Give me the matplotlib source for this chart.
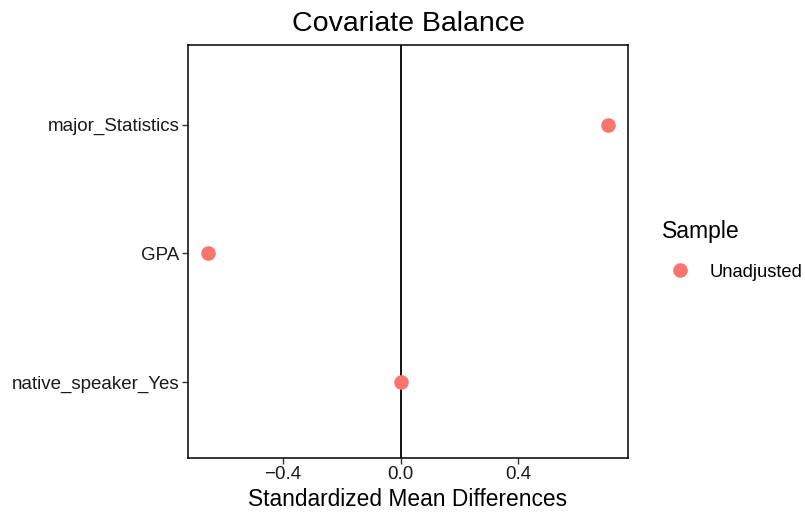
import matplotlib
matplotlib.use("Agg")
import matplotlib.pyplot as plt
from matplotlib.lines import Line2D

plt.rcParams['font.family'] = ['Liberation Sans', 'DejaVu Sans']

covariates = ["native_speaker_Yes", "GPA", "major_Statistics"]
smd_unadjusted = [0.0, -0.656, 0.706]
x_ticks = [-0.4, 0.0, 0.4]
x_tick_labels = ["\u22120.4", "0.0", "0.4"]

fig = plt.figure(figsize=(8.05, 5.14), dpi=100)
ax = fig.add_axes([188/805, 1-458/514, (628-188)/805, (458-45)/514])

ypos = list(range(1, len(covariates) + 1))
ax.axvline(0, color="black", lw=1.3, zorder=1)
ax.scatter(smd_unadjusted, ypos, s=110, color="#F8766D", zorder=3, linewidths=0)

ax.set_xlim(-0.724, 0.774)
ax.set_ylim(0.41, 3.62)
ax.set_xticks(x_ticks)
ax.set_xticklabels(x_tick_labels)
ax.set_yticks(ypos)
ax.set_yticklabels(covariates)
ax.tick_params(axis="both", direction="out", length=4, width=1, color="#333333",
               labelsize=13.5, labelcolor="#1a1a1a", pad=2)
for s in ax.spines.values():
    s.set_linewidth(1.1)
    s.set_color("black")

ax.set_xlabel("Standardized Mean Differences", fontsize=16.4, labelpad=3)
ax.set_title("Covariate Balance", fontsize=20.5, pad=10)

handle = Line2D([], [], marker="o", linestyle="none", markersize=10.5,
                markerfacecolor="#F8766D", markeredgewidth=0)
leg = fig.legend([handle], ["Unadjusted"], title="Sample", loc="upper left",
                 bbox_to_anchor=(662/805, 1-220/514), frameon=False,
                 fontsize=13.2, title_fontsize=16.6, handletextpad=0.6,
                 borderpad=0, borderaxespad=0, labelspacing=0.3)
leg._legend_box.align = "left"
leg._legend_box.sep = 15

fig.savefig("out.png", dpi=100)
